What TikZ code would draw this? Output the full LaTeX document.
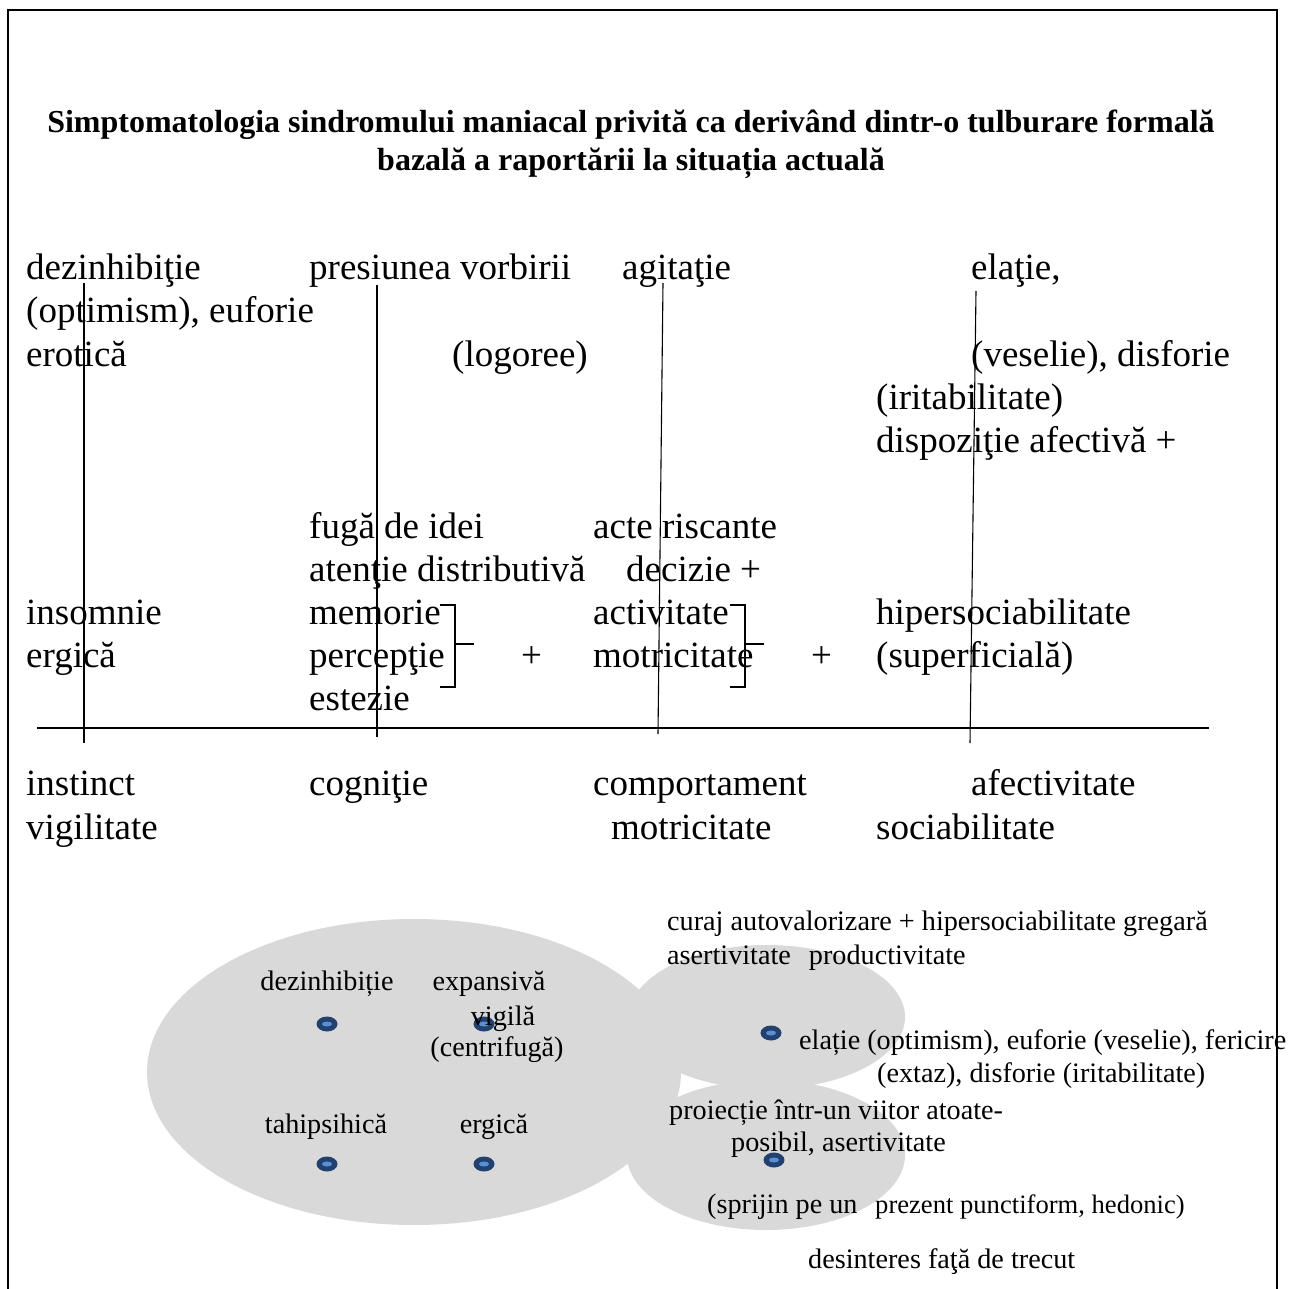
\documentclass[tikz,border=0pt]{standalone}
\usepackage{fontspec}
\setmainfont{Liberation Serif}
\definecolor{blobgray}{HTML}{D9D9D9}
\definecolor{dotout}{HTML}{23416F}
\definecolor{dotin}{HTML}{5B8FD3}
\tikzset{
  txt/.style={anchor=base west, inner sep=0pt, font=\fontsize{37}{43}\selectfont},
  ttl/.style={anchor=base, inner sep=0pt, font=\bfseries\fontsize{32}{38}\selectfont},
  sm/.style={anchor=base west, inner sep=0pt, font=\fontsize{28.2}{33}\selectfont},
  smc/.style={anchor=base, inner sep=0pt, font=\fontsize{28.2}{33}\selectfont},
  tms/.style={anchor=base west, inner sep=0pt, font=\fontsize{26.6}{31}\selectfont},
  frame/.style={line width=1.6pt},
  vline/.style={line width=1.1pt},
  hline/.style={line width=2.2pt},
  brk/.style={line width=1.6pt},
  blob/.style={fill=blobgray, draw=none},
}
\newcommand{\mydot}[2]{%
  \fill[dotout] (#1,#2) ellipse [x radius=10.5, y radius=7.5];
  \fill[dotin] (#1,#2) ellipse [x radius=5, y radius=2.5];}
\begin{document}
\begin{tikzpicture}[x=1pt,y=-1pt]
\useasboundingbox (0,0) rectangle (1301,1289);
\fill[white] (0,0) rectangle (1301,1289);
% frame
\coordinate (fbl) at (8,1289);
\coordinate (ftl) at (8,10);
\coordinate (ftr) at (1277,10);
\coordinate (fbr) at (1277,1289);
\draw[frame] (fbl) -- (ftl) -- (ftr) -- (fbr);
% title
\node[ttl] (t1) at (631,133) {Simptomatologia sindromului maniacal privită ca derivând dintr-o tulburare formală};
\node[ttl] (t2) at (631,171) {bazală a raportării la situația actuală};
% upper texts
\node[txt] (a1) at (26,280) {dezinhibiţie};
\node[txt] (a2) at (26,323) {(optimism), euforie};
\node[txt] (a3) at (26,366) {erotică};
\node[txt] (b1) at (309,280) {presiunea vorbirii};
\node[txt] (b2) at (452,366) {(logoree)};
\node[txt] (c1) at (622,280) {agitaţie};
\node[txt] (d1) at (971,280) {elaţie,};
\node[txt] (d2) at (971,366) {(veselie), disforie};
\node[txt] (d3) at (876,409) {(iritabilitate)};
\node[txt] (d4) at (876,452) {dispoziţie afectivă +};
\node[txt] (b3) at (309,538) {fugă de idei};
\node[txt] (b4) at (309,581) {atenţie distributivă};
\node[txt] (b5) at (309,624) {memorie};
\node[txt] (b6) at (309,667) {percepţie};
\node[txt] (b7) at (309,710) {estezie};
\node[txt] (p1) at (521,667) {+};
\node[txt] (c2) at (593,538) {acte riscante};
\node[txt] (c3) at (626,581) {decizie +};
\node[txt] (c4) at (593,624) {activitate};
\node[txt] (c5) at (593,667) {motricitate};
\node[txt] (p2) at (811,667) {+};
\node[txt] (a4) at (26,624) {insomnie};
\node[txt] (a5) at (26,667) {ergică};
\node[txt] (d5) at (876,624) {hipersociabilitate};
\node[txt] (d6) at (876,667) {(superficială)};
\node[txt] (a6) at (26,795) {instinct};
\node[txt] (a7) at (26,839) {vigilitate};
\node[txt] (b8) at (309,795) {cogniţie};
\node[txt] (c6) at (593,795) {comportament};
\node[txt] (c7) at (611,839) {motricitate};
\node[txt] (d7) at (971,795) {afectivitate};
\node[txt] (d8) at (876,839) {sociabilitate};
% braces
\coordinate (k1a) at (440,605); \coordinate (k1b) at (455,605);
\coordinate (k1c) at (455,687); \coordinate (k1d) at (440,687);
\coordinate (k1m) at (455,644); \coordinate (k1t) at (474,644);
\draw[brk] (k1a) -- (k1b) -- (k1c) -- (k1d);
\draw[brk] (k1m) -- (k1t);
\coordinate (k2a) at (730,605); \coordinate (k2b) at (745,605);
\coordinate (k2c) at (745,687); \coordinate (k2d) at (730,687);
\coordinate (k2m) at (745,644); \coordinate (k2t) at (764,644);
\draw[brk] (k2a) -- (k2b) -- (k2c) -- (k2d);
\draw[brk] (k2m) -- (k2t);
% vertical lines
\coordinate (v1t) at (84,283);  \coordinate (v1b) at (84,743);
\coordinate (v2t) at (377,285); \coordinate (v2b) at (377,737);
\coordinate (v3t) at (663,283); \coordinate (v3b) at (658,734);
\coordinate (v4t) at (976,291); \coordinate (v4b) at (970,743);
\draw[vline] (v1t) -- (v1b);
\draw[vline] (v2t) -- (v2b);
\draw[vline] (v3t) -- (v3b);
\draw[vline] (v4t) -- (v4b);
% horizontal axis
\coordinate (hl) at (37,728); \coordinate (hr) at (1209,728);
\draw[hline] (hl) -- (hr);
% blobs
\fill[blob] (414,1072) ellipse [x radius=267, y radius=153];
\fill[blob] (767,1017) ellipse [x radius=138, y radius=72];
\fill[blob] (766,1155) ellipse [x radius=139, y radius=75];
% dots
\mydot{327}{1024}
\mydot{484}{1024}
\mydot{327}{1164}
\mydot{484}{1164}
\mydot{771}{1033}
\mydot{774}{1160}
% lower texts
\node[smc] (e1) at (327,990) {dezinhibiție};
\node[smc] (e2) at (489,990) {expansivă};
\node[smc] (e3) at (503,1025) {vigilă};
\node[smc] (e4) at (497,1056) {(centrifugă)};
\node[smc] (e5) at (326,1133) {tahipsihică};
\node[smc] (e6) at (494,1133) {ergică};
\node[sm] (f1) at (667,930) {curaj autovalorizare + hipersociabilitate gregară};
\node[sm] (f2) at (667,964) {asertivitate\hspace{11pt} productivitate};
\node[sm] (f3) at (799,1049) {elație (optimism), euforie (veselie), fericire};
\node[sm] (f4) at (877,1082) {(extaz), disforie (iritabilitate)};
\node[sm] (f5) at (669,1119) {proiecție într-un viitor atoate-};
\node[sm] (f6) at (731,1151) {posibil, asertivitate};
\node[sm] (f7) at (707,1213) {(sprijin pe un};
\node[tms] (f8) at (875,1213) {prezent punctiform, hedonic)};
\node[sm] (f9) at (808,1268) {desinteres faţă de trecut};
\end{tikzpicture}
\end{document}
